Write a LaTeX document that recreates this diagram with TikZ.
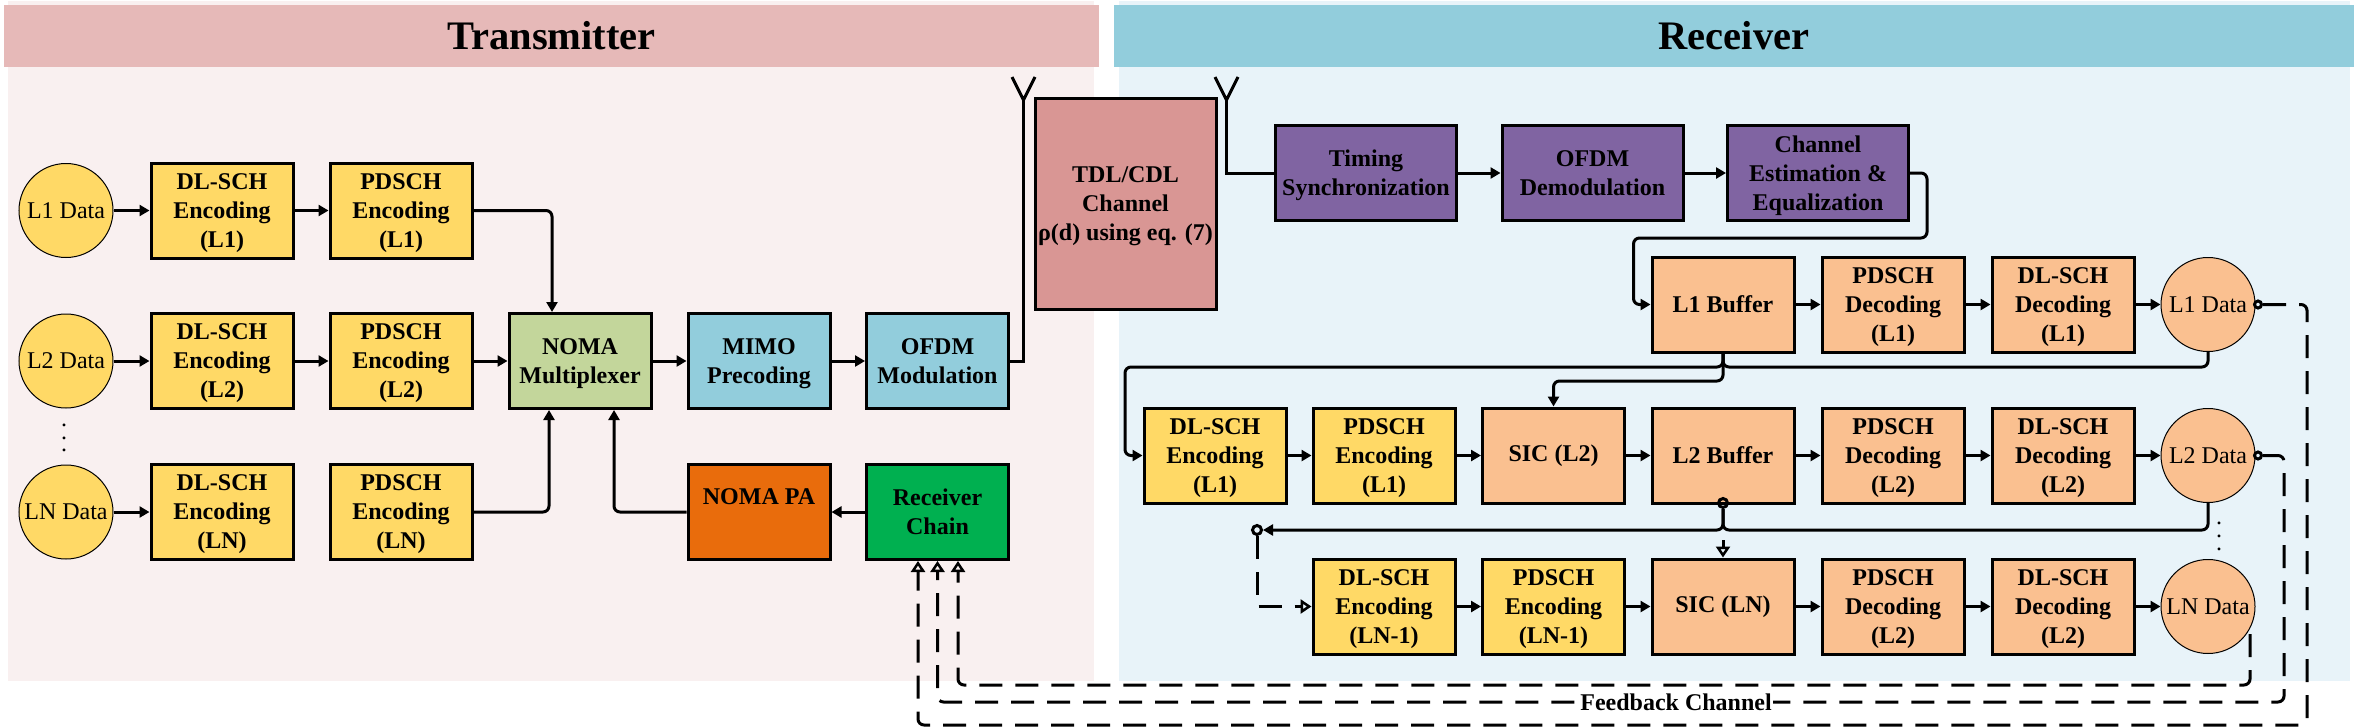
\documentclass[tikz,border=0pt]{standalone}
\usepackage{fontspec}
\setmainfont{Liberation Serif}
\usetikzlibrary{arrows.meta}

\definecolor{txhead}{HTML}{E6B9B8}
\definecolor{rxhead}{HTML}{92CDDC}
\definecolor{txback}{HTML}{F9F0F0}
\definecolor{rxback}{HTML}{E8F3F9}
\definecolor{encfill}{HTML}{FFD966}
\definecolor{decfill}{HTML}{FAC090}
\definecolor{muxfill}{HTML}{C3D69B}
\definecolor{paafill}{HTML}{E96C0C}
\definecolor{rcvfill}{HTML}{00B050}
\definecolor{synfill}{HTML}{8064A2}
\definecolor{chnfill}{HTML}{D99694}

\begin{document}
\begin{tikzpicture}[x=1pt,y=-1pt,
    title/.style={minimum height=62pt,inner sep=0pt,outer sep=0pt,font=\fontsize{40.5}{44}\selectfont\bfseries},
    blk/.style={draw,line width=3pt,minimum width=142pt,minimum height=95pt,inner sep=0pt,align=center,
      text depth=0pt,font=\fontsize{24}{29}\selectfont\bfseries},
    dat/.style={circle,draw,line width=1pt,minimum size=94pt,inner sep=0pt,font=\fontsize{24}{29}\selectfont},
    ring/.style={circle,draw,line width=3pt,minimum size=9pt,inner sep=0pt},
    wire/.style={draw,line width=3pt},
    link/.style={wire,-{Triangle[length=10pt,width=11pt]}},
    dlink/.style={wire,dash pattern=on 23pt off 13pt,-{Triangle[open,length=11pt,width=14pt,line width=2.5pt]}},
    elbow/.style={rounded corners=6pt}]

        \useasboundingbox (0,0) rectangle (2358,728);

        % panels
        \fill[txback] (8,1) rectangle (1094,681);
        \fill[rxback] (1119,1) rectangle (2350,681);
        \node[title,fill=txhead,minimum width=1095pt] (thead) at (551.5,36) {Transmitter};
        \node[title,fill=rxhead,minimum width=1240pt] (rhead) at (1734,36) {Receiver};

        % encoders
        \begin{scope}[every node/.style={blk,fill=encfill}]
          \node (e1) at (222,210.5) {DL-SCH\\Encoding\\(L1)};
          \node (p1) at (401,210.5) {PDSCH\\Encoding\\(L1)};
          \node (e2) at (222,361)   {DL-SCH\\Encoding\\(L2)};
          \node (p2) at (401,361)   {PDSCH\\Encoding\\(L2)};
          \node (eN) at (222,512)   {DL-SCH\\Encoding\\(LN)};
          \node (pN) at (401,512)   {PDSCH\\Encoding\\(LN)};
          \node (re1) at (1215,455.5) {DL-SCH\\Encoding\\(L1)};
          \node (rp1) at (1384,455.5) {PDSCH\\Encoding\\(L1)};
          \node (re2) at (1384,606.5) {DL-SCH\\Encoding\\(LN-1)};
          \node (rp2) at (1553.5,606.5) {PDSCH\\Encoding\\(LN-1)};
        \end{scope}

        % user data
        \begin{scope}[every node/.style={dat,fill=encfill}]
          \node (l1) at (66,210.5) {L1 Data};
          \node (l2) at (66,361)   {L2 Data};
          \node (lN) at (66,512)   {LN Data};
        \end{scope}

        % middle of the transmitter
        \node[blk,fill=muxfill] (mux)  at (580,361)   {NOMA\\Multiplexer};
        \node[blk,fill=rxhead]  (mimo) at (759,361)   {MIMO\\Precoding};
        \node[blk,fill=rxhead]  (ofdm) at (937.5,361) {OFDM\\Modulation};
        \node[blk,fill=paafill,text depth=30pt] (pa) at (759,512) {NOMA PA};
        \node[blk,fill=rcvfill] (rc)   at (937.5,512) {Receiver\\Chain};
        \node[blk,fill=chnfill,minimum width=181pt,minimum height=211pt] (chan) at (1125.5,203.5)
          {TDL/CDL\\Channel\\ρ(d) using eq. (7)};

        % receiver front end
        \begin{scope}[every node/.style={blk,fill=synfill,minimum width=181pt}]
          \node (sync) at (1366,173)   {Timing\\Synchronization};
          \node (dem)  at (1592.5,173) {OFDM\\Demodulation};
          \node (est)  at (1818,173)   {Channel\\Estimation \&\\Equalization};
        \end{scope}

        % decoders
        \begin{scope}[every node/.style={blk,fill=decfill}]
          \node (b1) at (1723,304.5) {L1 Buffer};
          \node (q1) at (1893,304.5) {PDSCH\\Decoding\\(L1)};
          \node (d1) at (2063,304.5) {DL-SCH\\Decoding\\(L1)};
          \node[text depth=5pt] (s2) at (1553.5,455.5) {SIC (L2)};
          \node (b2) at (1723,455.5) {L2 Buffer};
          \node (q2) at (1893,455.5) {PDSCH\\Decoding\\(L2)};
          \node (d2) at (2063,455.5) {DL-SCH\\Decoding\\(L2)};
          \node[text depth=5pt] (sN) at (1723,606.5) {SIC (LN)};
          \node (qN) at (1893,606.5) {PDSCH\\Decoding\\(L2)};
          \node (dN) at (2063,606.5) {DL-SCH\\Decoding\\(L2)};
        \end{scope}
        \begin{scope}[every node/.style={dat,fill=decfill}]
          \node (o1) at (2208,304.5) {L1 Data};
          \node (o2) at (2208,455.5) {L2 Data};
          \node (oN) at (2208,606.5) {LN Data};
        \end{scope}

        % dots between the rows
        \node[align=center,inner sep=0pt,font=\fontsize{24}{12.5}\selectfont] (dtx) at (64,438) {.\\.\\.};
        \node[align=center,inner sep=0pt,font=\fontsize{24}{13}\selectfont] (drx) at (2219,536) {.\\.\\.};

        % small rings and turning points
        \node[ring] (r1) at (1257,530) {};
        \node[ring] (r2) at (1723,503) {};
        \node[ring,minimum size=7pt] (t1) at (2258,304.5) {};
        \node[ring,minimum size=7pt] (t2) at (2258,455.5) {};
        \coordinate (a1) at (1023.5,100);
        \coordinate (a2) at (1226.5,100);
        \coordinate (k1) at (1927,238);
        \coordinate (k2) at (1633.5,238);
        \coordinate (j1) at (1723,367);
        \coordinate (k3) at (1125,367);
        \coordinate (k4) at (1723,381);
        \coordinate (j2) at (1723,530);
        \coordinate (f1) at (2307,725);
        \coordinate (f2) at (2284,702);
        \coordinate (f3) at (2250,634);
        \coordinate (f4) at (2250,685);

        % straight arrows
        \begin{scope}[every edge/.style={link}]
          \path (l1) edge (e1);
          \path (e1) edge (p1);
          \path (l2) edge (e2);
          \path (e2) edge (p2);
          \path (p2) edge (mux);
          \path (mux) edge (mimo);
          \path (mimo) edge (ofdm);
          \path (lN) edge (eN);
          \path (rc) edge (pa);
          \path (sync) edge (dem);
          \path (dem) edge (est);
          \path (b1) edge (q1);
          \path (q1) edge (d1);
          \path (d1) edge (o1);
          \path (re1) edge (rp1);
          \path (rp1) edge (s2);
          \path (s2) edge (b2);
          \path (b2) edge (q2);
          \path (q2) edge (d2);
          \path (d2) edge (o2);
          \path (re2) edge (rp2);
          \path (rp2) edge (sN);
          \path (sN) edge (qN);
          \path (qN) edge (dN);
          \path (dN) edge (oN);
        \end{scope}

        % transmitter turns and antennas
        \draw[link,elbow] (p1.east) -| ([xshift=-28pt]mux.north);
        \draw[link,elbow] (pN.east) -| ([xshift=-31pt]mux.south);
        \draw[link,elbow] (pa.west) -| ([xshift=34pt]mux.south);
        \draw[wire] (ofdm.east) -| (a1);
        \draw[wire] (1012,77) -- (a1) -- (1035,77);
        \draw[wire] (1215,77) -- (a2) -- (1238,77);
        \draw[wire] (a2) |- (sync.west);

        % receiver turns
        \draw[link,elbow] (est.east) -| (k1) -- (k2) |- (b1.west);
        \draw[wire,elbow] (o1.south) |- (j1) -- (b1.south);
        \draw[link,elbow] (b1.south) -- (j1) -- (k3) |- (re1.west);
        \draw[link,elbow] (b1.south) -- (k4) -| (s2.north);
        \draw[wire,elbow] (o2.south) |- (j2) -- (r2.south);
        \draw[link,elbow] (r2.south) -- (j2) -- (r1.east);
        \draw[dlink] (r1.south) |- (re2.west);
        \draw[dlink,dash phase=26pt] (j2) -- (sN.north);

        % feedback
        \draw[dlink,elbow] (t1.east) -| (f1) -| ([xshift=-19.5pt]rc.south);
        \draw[dlink,elbow] (t2.east) -| (f2) -| (rc.south);
        \draw[dlink,elbow] (f3) -- (f4) -| ([xshift=20.5pt]rc.south);
        \node[fill=white,inner sep=1pt,font=\fontsize{24}{29}\selectfont\bfseries] (fb) at (1676,702) {Feedback Channel};

      \end{tikzpicture}
\end{document}
